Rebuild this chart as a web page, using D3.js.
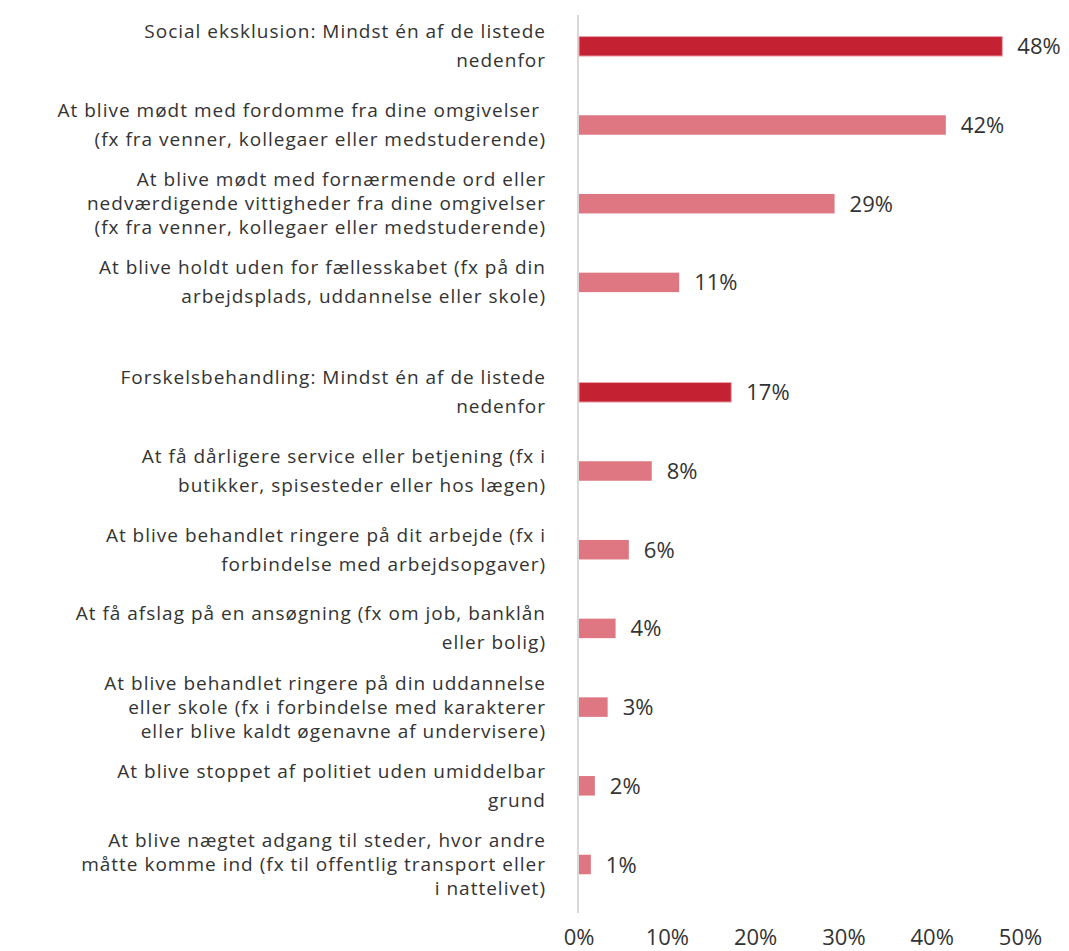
<!DOCTYPE html>
<html>
<head>
<meta charset="utf-8">
<script src="https://cdn.jsdelivr.net/npm/d3@7"></script>
<style>
  body { margin: 0; background: #fff; }
  text { font-family: "Open Sans", Lato, sans-serif; fill: #333; }
</style>
</head>
<body>
<div id="chart-area"></div>
<script>
// chart data
const labels = [
  ['Social eksklusion: Mindst én af de listede', 'nedenfor'],
  ['At blive mødt med fordomme fra dine omgivelser ', '(fx fra venner, kollegaer eller medstuderende)'],
  ['At blive mødt med fornærmende ord eller', 'nedværdigende vittigheder fra dine omgivelser', '(fx fra venner, kollegaer eller medstuderende)'],
  ['At blive holdt uden for fællesskabet (fx på din', 'arbejdsplads, uddannelse eller skole)'],
  ['Forskelsbehandling: Mindst én af de listede', 'nedenfor'],
  ['At få dårligere service eller betjening (fx i', 'butikker, spisesteder eller hos lægen)'],
  ['At blive behandlet ringere på dit arbejde (fx i', 'forbindelse med arbejdsopgaver)'],
  ['At få afslag på en ansøgning (fx om job, banklån', 'eller bolig)'],
  ['At blive behandlet ringere på din uddannelse', 'eller skole (fx i forbindelse med karakterer', 'eller blive kaldt øgenavne af undervisere)'],
  ['At blive stoppet af politiet uden umiddelbar', 'grund'],
  ['At blive nægtet adgang til steder, hvor andre', 'måtte komme ind (fx til offentlig transport eller', 'i nattelivet)']
]
const values = [48.0, 41.6, 29.0, 11.4, 17.3, 8.3, 5.7, 4.2, 3.3, 1.85, 1.4]
const isSummary = [true, false, false, false, true, false, false, false, false, false, false]
const groups = [0, 0, 0, 0, 1, 1, 1, 1, 1, 1, 1]
const xTicks = [0, 10, 20, 30, 40, 50]

const width = 1069
const height = 951
const rowStep = 78.7
const groupGap = 31.2
const barHeight = 19.5
const labelSize = 19
const numberSize = 22

const svg = d3.select('#chart-area')
  .append('svg')
    .attr('width', width)
    .attr('height', height)

const data = values.map((v, i) => ({
  value: v,
  lines: labels[i],
  summary: isSummary[i],
  group: groups[i],
  idx: i
}))

const scaleX = d3.scaleLinear()
  .domain([0, 50])
  .range([578.5, 1020])

const scaleRow = d3.scalePoint()
  .domain(data.map(d => d.idx))
  .range([46.3, 46.3 + rowStep * (data.length - 1)])

const yCenter = d => scaleRow(d.idx) + d.group * groupGap

// vertical zero line
svg.append('line')
  .attr('x1', scaleX(0) - 0.5)
  .attr('x2', scaleX(0) - 0.5)
  .attr('y1', 15)
  .attr('y2', 913)
  .attr('stroke', '#d9d9d9')
  .attr('stroke-width', 2)

// bars
svg.selectAll('rect.bar').data(data).enter()
  .append('rect')
    .attr('class', 'bar')
    .attr('x', scaleX(0) + 0.5)
    .attr('y', d => yCenter(d) - barHeight / 2)
    .attr('width', d => scaleX(d.value) - scaleX(0) - 0.5)
    .attr('height', barHeight)
    .attr('fill', d => d.summary ? '#c42133' : '#de7782')
    .attr('stroke', d => d.summary ? '#eba3ac' : 'none')
    .attr('stroke-width', 1)

// value labels
svg.selectAll('text.value').data(data).enter()
  .append('text')
    .attr('class', 'value')
    .attr('x', d => scaleX(d.value) + 15)
    .attr('y', d => yCenter(d) + 8)
    .attr('font-size', numberSize)
    .text(d => d3.format('.0f')(d.value) + '%')

// category labels
const labelG = svg.selectAll('text.label').data(data).enter()
  .append('text')
    .attr('class', 'label')
    .attr('text-anchor', 'end')
    .attr('font-size', labelSize)
    .attr('letter-spacing', 1)
    .attr('x', 546)
    .attr('y', d => yCenter(d) + 6.5)

labelG.selectAll('tspan')
  .data(d => {
    const lh = d.lines.length === 2 ? 29 : 24
    const top = -lh * (d.lines.length - 1) / 2
    return d.lines.map((t, j) => ({ t, dy: top + j * lh }))
  })
  .enter()
  .append('tspan')
    .attr('x', 546)
    .attr('y', function (l) { return +d3.select(this.parentNode).attr('y') + l.dy })
    .style('white-space', 'pre')
    .text(l => l.t)

// x axis
const xAxisCall = d3.axisBottom(scaleX)
  .tickValues(xTicks)
  .tickSize(0)
  .tickFormat(d => `${d}%`)

const xAxis = svg.append('g')
  .attr('transform', 'translate(0, 945)')
  .call(xAxisCall)
xAxis.select('.domain').remove()
xAxis.selectAll('text')
  .attr('y', 0)
  .attr('dy', 0)
  .attr('font-size', numberSize)
  .attr('font-family', '"Open Sans", sans-serif')
  .attr('fill', '#333')
</script>
</body>
</html>
